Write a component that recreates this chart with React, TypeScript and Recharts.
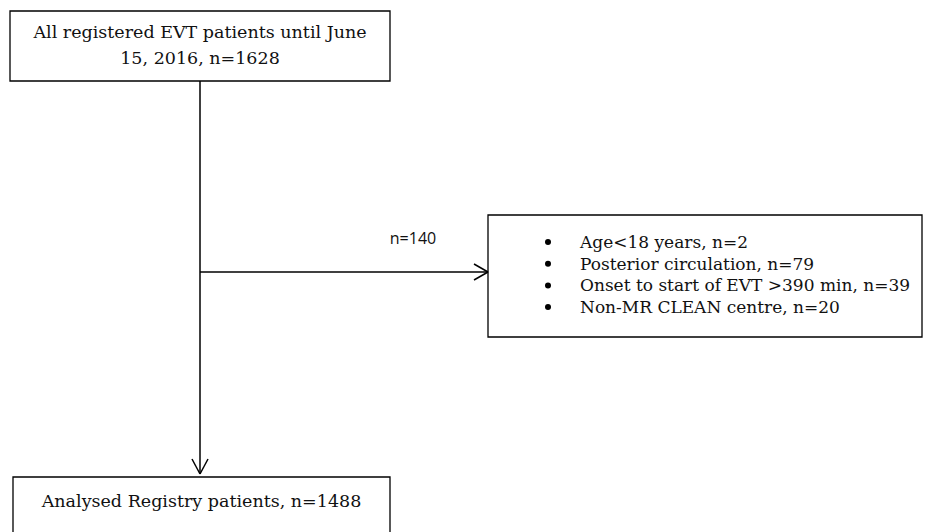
import {
  ComposedChart,
  XAxis,
  YAxis,
  ReferenceArea,
  ReferenceLine,
  ReferenceDot,
} from 'recharts';

// flowchart content
const topBoxLines = ['All registered EVT patients until June', '15, 2016, n=1628'];
const excludedCount = 'n=140';
const exclusionItems = [
  'Age<18 years, n=2',
  'Posterior circulation, n=79',
  'Onset to start of EVT >390 min, n=39',
  'Non-MR CLEAN centre, n=20',
];
const bottomBoxLines = ['Analysed Registry patients, n=1488'];

const W = 926;
const H = 532;
const SERIF = '"DejaVu Serif", "Liberation Serif", serif';
const SANS = '"Open Sans", "Liberation Sans", sans-serif';

// layout in chart units (same as pixels, y pointing down)
const topBox = { x1: 10, x2: 390, y1: 11, y2: 81 };
const sideBox = { x1: 488, x2: 922, y1: 215, y2: 337 };
const bottomBox = { x1: 13, x2: 390, y1: 477, y2: 540 };
const trunkX = 200;
const branchY = 272;

const stroke = { stroke: '#000', strokeWidth: 1.5 };

function TextAt(text: string, x: number, y: number, opts: { anchor?: 'start' | 'middle'; font?: string; size?: number; bullet?: boolean }) {
  const { anchor = 'middle', font = SERIF, size = 16, bullet = false } = opts;
  return (
    <ReferenceDot
      key={`${text}-${x}-${y}`}
      x={x}
      y={y}
      r={0}
      ifOverflow="visible"
      shape={(p: any) => (
        <g>
          {bullet && <circle cx={p.cx - 32} cy={p.cy} r={3} fill="#000" />}
          <text
            x={p.cx}
            y={p.cy}
            textAnchor={anchor}
            dominantBaseline="central"
            fontFamily={font}
            fontSize={size}
            fill="#111"
          >
            {text}
          </text>
        </g>
      )}
    />
  );
}

function Box(b: { x1: number; x2: number; y1: number; y2: number }, key: string) {
  return (
    <ReferenceArea
      key={key}
      x1={b.x1}
      x2={b.x2}
      y1={b.y1}
      y2={b.y2}
      fill="#fff"
      fillOpacity={1}
      stroke="#000"
      strokeWidth={1.3}
      ifOverflow="visible"
    />
  );
}

function Seg(a: [number, number], b: [number, number], key: string) {
  return (
    <ReferenceLine
      key={key}
      segment={[
        { x: a[0], y: a[1] },
        { x: b[0], y: b[1] },
      ]}
      {...stroke}
      ifOverflow="visible"
    />
  );
}

export default function App() {
  const arrowTipY = bottomBox.y1 - 3;
  const arrowTipX = sideBox.x1;
  return (
    <div style={{ position: 'absolute', left: 0, top: 0, width: W, height: H, background: '#fff', overflow: 'hidden' }}>
      <ComposedChart width={W} height={H} data={[]} margin={{ top: 0, right: 0, bottom: 0, left: 0 }}>
        <XAxis type="number" dataKey="x" domain={[0, W]} hide allowDataOverflow />
        <YAxis type="number" dataKey="y" domain={[0, H]} reversed hide allowDataOverflow />

        {Box(topBox, 'top')}
        {Box(sideBox, 'side')}
        {Box(bottomBox, 'bottom')}

        {Seg([trunkX, topBox.y2], [trunkX, arrowTipY], 'trunk')}
        {Seg([trunkX - 8, arrowTipY - 15], [trunkX, arrowTipY], 'ah1')}
        {Seg([trunkX + 8, arrowTipY - 15], [trunkX, arrowTipY], 'ah2')}

        {Seg([trunkX, branchY], [arrowTipX, branchY], 'branch')}
        {Seg([arrowTipX - 14, branchY - 8], [arrowTipX, branchY], 'bh1')}
        {Seg([arrowTipX - 14, branchY + 8], [arrowTipX, branchY], 'bh2')}

        {topBoxLines.map((t, i) => TextAt(t, (topBox.x1 + topBox.x2) / 2, 32 + i * 26, { size: 17.5 }))}
        {TextAt(excludedCount, 413, 238, { font: SANS, size: 16 })}
        {exclusionItems.map((t, i) => TextAt(t, 580, 242 + i * 21.7, { anchor: 'start', size: 17, bullet: true }))}
        {bottomBoxLines.map((t) => TextAt(t, (bottomBox.x1 + bottomBox.x2) / 2, 501, { size: 17.5 }))}
      </ComposedChart>
    </div>
  );
}
